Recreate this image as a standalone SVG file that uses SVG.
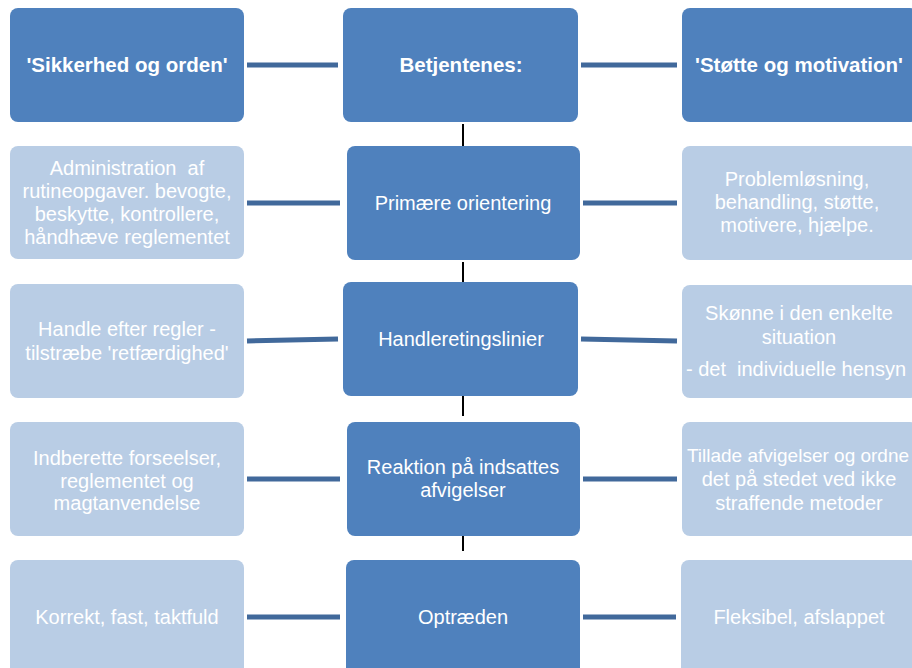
<svg xmlns="http://www.w3.org/2000/svg" width="912" height="668" viewBox="0 0 912 668">
<style>
.dk{fill:#4f81bd;}
.lt{fill:#b9cde5;}
text{font-family:"Liberation Sans",Arial,sans-serif;font-size:20px;fill:#ffffff;text-anchor:middle;white-space:pre;}
.b{font-weight:bold;font-size:20.5px;}
.con{stroke:#41699b;stroke-width:5;fill:none;}
.v{stroke:#000000;stroke-width:2;fill:none;}
</style>
<g id="connectors">
<line class="con" x1="247" y1="65" x2="338" y2="65"/>
<line class="con" x1="581" y1="65" x2="677" y2="65"/>
<line class="con" x1="247" y1="203" x2="340" y2="203"/>
<line class="con" x1="583" y1="203" x2="677" y2="203"/>
<line class="con" x1="247" y1="341" x2="338" y2="339"/>
<line class="con" x1="581" y1="339" x2="677" y2="341"/>
<line class="con" x1="247" y1="479" x2="340" y2="479"/>
<line class="con" x1="583" y1="479" x2="677" y2="479"/>
<line class="con" x1="247" y1="617" x2="340" y2="617"/>
<line class="con" x1="583" y1="617" x2="676" y2="617"/>
<line class="v" x1="463" y1="124" x2="463" y2="146"/>
<line class="v" x1="463" y1="262" x2="463" y2="284"/>
<line class="v" x1="463" y1="394" x2="463" y2="416"/>
<line class="v" x1="463" y1="528" x2="463" y2="551"/>
</g>
<g id="n-sikkerhed">
<rect class="dk" x="10" y="8" width="234" height="114" rx="8"/>
<text class="b" x="127" y="72">'Sikkerhed og orden'</text>
</g>
<g id="n-betjentenes">
<rect class="dk" x="343" y="8" width="235" height="114" rx="8"/>
<text class="b" x="461" y="72">Betjentenes:</text>
</g>
<g id="n-stotte">
<rect class="dk" x="682" y="8" width="236" height="114" rx="8"/>
<text class="b" x="799" y="72">'Støtte og motivation'</text>
</g>
<g id="n-admin">
<rect class="lt" x="10" y="146" width="234" height="113" rx="8"/>
<text x="127" y="175">Administration  af</text>
<text x="127" y="198">rutineopgaver. bevogte,</text>
<text x="127" y="221">beskytte, kontrollere,</text>
<text x="127" y="244">håndhæve reglementet</text>
</g>
<g id="n-primaere">
<rect class="dk" x="347" y="146" width="233" height="114" rx="8"/>
<text x="463" y="210">Primære orientering</text>
</g>
<g id="n-problem">
<rect class="lt" x="682" y="146" width="236" height="114" rx="8"/>
<text x="797" y="186">Problemløsning,</text>
<text x="797" y="209">behandling, støtte,</text>
<text x="797" y="232">motivere, hjælpe.</text>
</g>
<g id="n-handle">
<rect class="lt" x="10" y="284" width="234" height="114" rx="8"/>
<text x="127" y="336">Handle efter regler -</text>
<text x="127" y="360">tilstræbe 'retfærdighed'</text>
</g>
<g id="n-handleret">
<rect class="dk" x="343" y="282" width="235" height="114" rx="8"/>
<text x="461" y="346">Handleretingslinier</text>
</g>
<g id="n-skonne">
<rect class="lt" x="682" y="285" width="236" height="113" rx="8"/>
<text x="799" y="320">Skønne i den enkelte</text>
<text x="799" y="344">situation</text>
<text x="796" y="376">- det  individuelle hensyn</text>
</g>
<g id="n-indberette">
<rect class="lt" x="10" y="422" width="234" height="114" rx="8"/>
<text x="127" y="465">Indberette forseelser,</text>
<text x="127" y="488">reglementet og</text>
<text x="127" y="510">magtanvendelse</text>
</g>
<g id="n-reaktion">
<rect class="dk" x="347" y="422" width="233" height="114" rx="8"/>
<text x="463" y="474">Reaktion på indsattes</text>
<text x="463" y="497">afvigelser</text>
</g>
<g id="n-tillade">
<rect class="lt" x="682" y="422" width="236" height="114" rx="8"/>
<text x="798" y="462" style="font-size:19px">Tillade afvigelser og ordne</text>
<text x="799" y="486">det på stedet ved ikke</text>
<text x="799" y="510">straffende metoder</text>
</g>
<g id="n-korrekt">
<rect class="lt" x="10" y="560" width="234" height="120" rx="8"/>
<text x="127" y="624">Korrekt, fast, taktfuld</text>
</g>
<g id="n-optraeden">
<rect class="dk" x="346" y="560" width="234" height="120" rx="8"/>
<text x="463" y="624">Optræden</text>
</g>
<g id="n-fleksibel">
<rect class="lt" x="681" y="560" width="237" height="120" rx="8"/>
<text x="799" y="624">Fleksibel, afslappet</text>
</g>
</svg>
